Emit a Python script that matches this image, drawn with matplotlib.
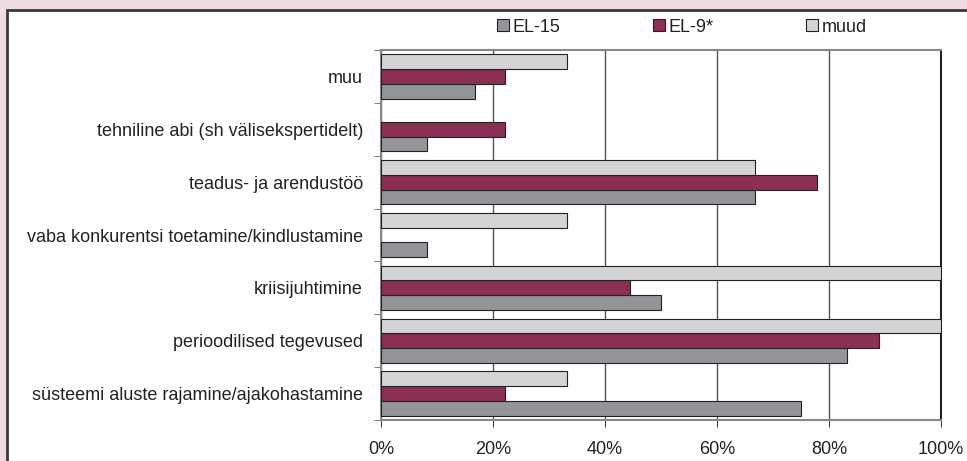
import matplotlib
matplotlib.use('Agg')
import matplotlib.pyplot as plt
import numpy as np
from matplotlib.patches import Rectangle
from matplotlib.ticker import FixedLocator

categories = ["süsteemi aluste rajamine/ajakohastamine", "perioodilised tegevused",
              "kriisijuhtimine", "vaba konkurentsi toetamine/kindlustamine",
              "teadus- ja arendustöö", "tehniline abi (sh välisekspertidelt)", "muu"]
el15 = [75.0, 83.3, 50.0, 8.3, 66.7, 8.3, 16.7]
el9 = [22.2, 88.9, 44.4, 0.0, 77.8, 22.2, 22.2]
muud = [33.3, 100.0, 100.0, 33.3, 66.7, 0.0, 33.3]
series_names = ["EL-15", "EL-9*", "muud"]
xtick_vals = [0, 20, 40, 60, 80, 100]
xtick_labels = ["0%", "20%", "40%", "60%", "80%", "100%"]

plt.rcParams['font.family'] = ['Liberation Sans', 'DejaVu Sans']

W, H = 967, 461
fig = plt.figure(figsize=(W / 100, H / 100), dpi=100, facecolor='#eedce1')
panel = Rectangle((7 / W, -0.05), 1.1, 1 - 10 / H + 0.05, transform=fig.transFigure,
                  facecolor='white', edgecolor='#3a3a3a', linewidth=2, zorder=-5)
fig.patches.append(panel)

ax = fig.add_axes([381 / W, 1 - 420 / H, (941 - 381) / W, (420 - 50) / H])
ax.set_zorder(1)
ax.set_facecolor('white')

colors = ['#939598', '#8b2f55', '#d3d4d6']
h = 0.28
y = np.arange(len(categories))
offsets = [-h, 0, h]
handles = []
for vals, name, col, off in zip([el15, el9, muud], series_names, colors, offsets):
    bars = ax.barh(y + off, vals, height=h, color=col, edgecolor='#222222',
                   linewidth=0.8, label=name, zorder=3)
    for b, v in zip(bars, vals):
        if v == 0:
            b.set_visible(False)
    handles.append(bars)

ax.set_xlim(0, 100)
ax.set_ylim(-0.5, len(categories) - 0.5)
ax.set_xticks(xtick_vals)
ax.set_xticklabels(xtick_labels, fontsize=13, color='#222222')
ax.set_yticks(y)
ax.set_yticklabels(categories, fontsize=13, color='#222222')
ax.yaxis.set_minor_locator(FixedLocator(np.arange(-0.5, len(categories), 1.0)))
ax.tick_params(axis='y', which='major', length=0, pad=13)
ax.tick_params(axis='y', which='minor', length=5, color='#666666', direction='out')
ax.tick_params(axis='x', which='major', length=5, color='#444444', direction='out', pad=10)

ax.grid(axis='x', color='#555555', linewidth=1, zorder=1)
ax.set_axisbelow(True)
for s in ['top', 'left', 'bottom']:
    ax.spines[s].set_color('#888888')
    ax.spines[s].set_linewidth(1.5)
ax.spines['right'].set_color('#222222')
ax.spines['right'].set_linewidth(1.5)

leg = fig.legend(handles=handles, labels=series_names, loc='center',
                 bbox_to_anchor=(682 / W, 1 - 27 / H), ncol=3, frameon=False,
                 fontsize=13, handlelength=0.67, handleheight=0.67,
                 handletextpad=0.2, columnspacing=5.1, labelcolor='#222222')

fig.savefig('out.png', dpi=100, facecolor=fig.get_facecolor())
